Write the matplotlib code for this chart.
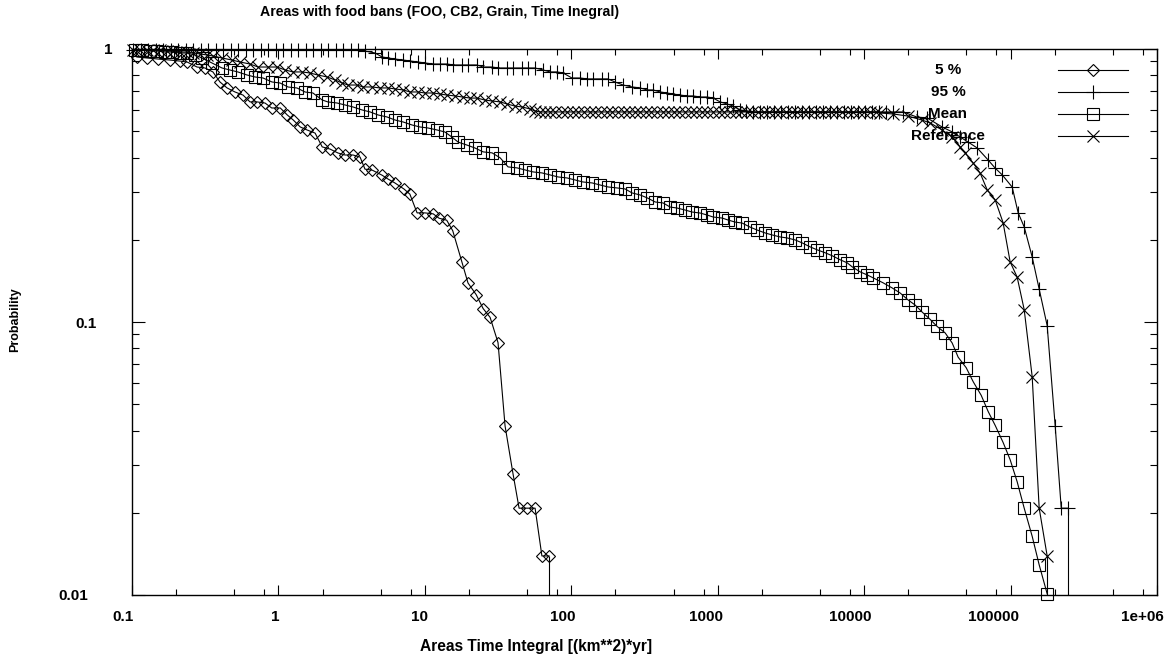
import matplotlib

matplotlib.use("Agg")
import matplotlib.pyplot as plt
from matplotlib.ticker import FixedLocator, LogLocator, NullFormatter
from matplotlib.transforms import ScaledTranslation

TITLE = "Areas with food bans (FOO, CB2, Grain, Time Inegral)"
X_LABEL = "Areas Time Integral [(km**2)*yr]"
Y_LABEL = "Probability"

X_TICKS = [0.1, 1, 10, 100, 1000, 10000, 100000, 1e6]
X_TICK_LABELS = ["0.1", "1", "10", "100", "1000", "10000", "100000", "1e+06"]
Y_TICKS = [0.01, 0.1, 1]
Y_TICK_LABELS = ["0.01", "0.1", "1"]

SERIES_LABELS = ["5 %", "95 %", "Mean", "Reference"]

# 5 % curve (diamonds)
P5_X = [0.108, 0.127, 0.150, 0.182, 0.213, 0.238, 0.278, 0.315, 0.357, 0.399,
        0.446, 0.505, 0.573, 0.640, 0.714, 0.810, 0.900, 1.03, 1.15, 1.26,
        1.41, 1.57, 1.78, 1.99, 2.25, 2.55, 2.85, 3.23, 3.61, 3.90,
        4.37, 5.10, 5.60, 6.25, 7.20, 7.90, 8.85, 10.0, 11.4, 12.5,
        14.1, 15.5, 17.9, 19.7, 22.4, 25.0, 27.9, 31.6, 35.3, 40.0,
        44.0, 49.9, 56.6, 63.0, 70.5]
P5_Y = [0.935, 0.927, 0.919, 0.911, 0.903, 0.896, 0.859, 0.852, 0.824, 0.757,
        0.720, 0.696, 0.678, 0.640, 0.640, 0.634, 0.608, 0.608, 0.573, 0.550,
        0.518, 0.505, 0.492, 0.438, 0.430, 0.416, 0.409, 0.409, 0.402, 0.363,
        0.360, 0.345, 0.334, 0.323, 0.307, 0.294, 0.251, 0.251, 0.249, 0.240,
        0.236, 0.216, 0.166, 0.139, 0.126, 0.112, 0.104, 0.084, 0.0416, 0.0278,
        0.0208, 0.0208, 0.0208, 0.0139, 0.0139]

# 95 % curve (plus signs)
P95_X = [0.1016, 0.1152, 0.1286, 0.1459, 0.1628, 0.1847, 0.2062, 0.2338, 0.2611, 0.296,
         0.330, 0.375, 0.418, 0.474, 0.530, 0.601, 0.671, 0.761, 0.849, 0.963,
         1.075, 1.219, 1.36, 1.543, 1.72, 1.954, 2.18, 2.47, 2.76, 3.13,
         3.50, 3.90, 4.57, 5.10, 5.61, 6.25, 7.10, 7.92, 8.99, 10.0,
         11.4, 12.7, 14.2, 15.6, 17.9, 19.7, 22.7, 25.0, 28.8, 31.6,
         36.4, 40.0, 46.4, 50.7, 56.6, 64.2, 71.7, 80.0, 87.9, 101,
         115, 128, 141, 162, 178, 199, 226, 260, 295, 330,
         362, 405, 451, 496, 553, 618, 679, 759, 847, 931,
         1039, 1159, 1274, 1422, 1563, 1746, 1949, 2170, 2420, 2700,
         3020, 3370, 3760, 4200, 4690, 5230, 5840, 6520, 7280, 8120,
         9070, 10100, 11300, 12600, 14100, 15700, 18460, 23000, 26920, 34100,
         39910, 45290, 51340, 59150, 70310, 78520, 87650, 102600, 112700, 123900,
         140500, 156800, 177800, 201700, 221800, 247300]
P95_Y = [0.993, 0.993, 0.993, 0.993, 0.993, 0.993, 0.993, 0.993, 0.993, 0.993,
         0.993, 0.993, 0.993, 0.993, 0.993, 0.993, 0.993, 0.993, 0.993, 0.993,
         0.993, 0.993, 0.993, 0.993, 0.993, 0.993, 0.993, 0.993, 0.993, 0.990,
         0.990, 0.983, 0.967, 0.935, 0.927, 0.919, 0.911, 0.904, 0.896, 0.889,
         0.881, 0.881, 0.881, 0.874, 0.874, 0.874, 0.874, 0.859, 0.859, 0.852,
         0.852, 0.852, 0.852, 0.852, 0.852, 0.838, 0.824, 0.824, 0.817, 0.783,
         0.783, 0.777, 0.777, 0.777, 0.777, 0.757, 0.738, 0.726, 0.720, 0.708,
         0.708, 0.696, 0.690, 0.684, 0.678, 0.673, 0.673, 0.667, 0.667, 0.661,
         0.640, 0.629, 0.618, 0.598, 0.593, 0.588, 0.588, 0.588, 0.588, 0.588,
         0.588, 0.588, 0.588, 0.588, 0.588, 0.588, 0.588, 0.588, 0.588, 0.588,
         0.588, 0.588, 0.588, 0.588, 0.588, 0.588, 0.588, 0.563, 0.559, 0.518,
         0.497, 0.476, 0.456, 0.434, 0.392, 0.366, 0.346, 0.312, 0.251, 0.223,
         0.173, 0.132, 0.097, 0.0416, 0.0208, 0.0208]

# mean curve (squares)
MEAN_X = [0.1048, 0.117, 0.1327, 0.1482, 0.168, 0.1876, 0.2128, 0.2375, 0.2694, 0.3006,
          0.352, 0.412, 0.467, 0.530, 0.610, 0.692, 0.785, 0.904, 1.026, 1.163,
          1.34, 1.52, 1.72, 1.99, 2.18, 2.51, 2.85, 3.23, 3.73, 4.23,
          4.79, 5.52, 6.25, 7.10, 8.18, 9.27, 10.5, 12.1, 13.7, 15.3,
          16.9, 19.4, 22.0, 25.0, 28.8, 32.7, 37.0, 42.7, 48.3, 54.8,
          63.1, 71.7, 81.2, 93.6, 106, 120, 139, 157, 178, 205,
          233, 260, 295, 330, 374, 424, 473, 528, 599, 669,
          759, 847, 931, 1072, 1178, 1315, 1468, 1665, 1858, 2108,
          2353, 2669, 2979, 3379, 3773, 4279, 4776, 5416, 6046, 6856,
          7652, 8280, 9390, 10480, 11520, 13490, 15530, 17620, 19970, 22290,
          24880, 28240, 31520, 35750, 39910, 43870, 49770, 55590, 62990, 70310,
          78520, 88930, 99340, 110900, 123900, 140500, 156800, 177800]
MEAN_Y = [0.9916, 0.9916, 0.9833, 0.9833, 0.975, 0.975, 0.9668, 0.9668, 0.9507, 0.9268,
          0.8886, 0.8519, 0.8376, 0.8236, 0.8032, 0.7897, 0.7831, 0.7571, 0.7507, 0.7258,
          0.7197, 0.6958, 0.690, 0.6505, 0.6397, 0.6343, 0.6237, 0.6133, 0.598, 0.5881,
          0.5733, 0.5636, 0.5495, 0.5404, 0.5268, 0.518, 0.5137, 0.5051, 0.4967, 0.4758,
          0.4558, 0.4447, 0.4338, 0.4199, 0.4164, 0.3992, 0.3699, 0.3668, 0.3606, 0.3546,
          0.3516, 0.3457, 0.3399, 0.337, 0.3314, 0.3258, 0.3231, 0.3177, 0.3124, 0.3098,
          0.3072, 0.297, 0.292, 0.2849, 0.2752, 0.2729, 0.2637, 0.2615, 0.2571, 0.2528,
          0.2507, 0.2465, 0.2424, 0.2403, 0.2363, 0.2323, 0.2304, 0.2226, 0.2172, 0.2119,
          0.2084, 0.2049, 0.2032, 0.1998, 0.1949, 0.1884, 0.1838, 0.1793, 0.1749, 0.169,
          0.1648, 0.1593, 0.1526, 0.1488, 0.1451, 0.1391, 0.1333, 0.1277, 0.1204, 0.1154,
          0.1088, 0.1022, 0.0963, 0.0912, 0.0838, 0.0743, 0.068, 0.0604, 0.0539, 0.047,
          0.0418, 0.0362, 0.0313, 0.026, 0.0208, 0.0164, 0.0129, 0.0101]

# reference run (crosses)
REF_X = [0.1016, 0.1134, 0.1266, 0.139, 0.1554, 0.1734, 0.1905, 0.2128, 0.2375, 0.2611,
         0.2914, 0.3253, 0.357, 0.412, 0.482, 0.547, 0.640, 0.726, 0.849, 0.978,
         1.11, 1.26, 1.45, 1.64, 1.86, 2.15, 2.44, 2.72, 2.99, 3.44,
         3.78, 4.36, 4.94, 5.61, 6.25, 7.10, 7.92, 8.99, 10.0, 11.4,
         12.7, 14.2, 16.1, 18.2, 20.4, 22.7, 25.8, 28.8, 32.7, 36.4,
         41.3, 46.4, 52.3, 56.6, 61.2, 66, 72, 78, 86, 94,
         102, 112, 123, 134, 146, 160, 175, 190, 208, 228,
         248, 272, 296, 324, 352, 386, 420, 460, 503, 548,
         600, 653, 715, 780, 850, 930, 1015, 1110, 1210, 1325,
         1445, 1580, 1725, 1885, 2055, 2245, 2455, 2680, 2925, 3195,
         3490, 3810, 4165, 4545, 4965, 5425, 5925, 6470, 7065, 7715,
         8425, 9200, 10050, 10970, 11980, 12850, 15780, 19950, 24880, 28240,
         34100, 39910, 45290, 49000, 55590, 62000, 69200, 78520, 88930, 99340,
         110900, 123900, 140500, 156800, 177800]
REF_Y = [0.993, 0.993, 0.990, 0.990, 0.990, 0.983, 0.983, 0.975, 0.975, 0.967,
         0.959, 0.951, 0.943, 0.927, 0.911, 0.896, 0.881, 0.859, 0.859, 0.859,
         0.838, 0.824, 0.824, 0.817, 0.803, 0.790, 0.770, 0.751, 0.738, 0.738,
         0.726, 0.726, 0.720, 0.720, 0.714, 0.708, 0.696, 0.696, 0.690, 0.690,
         0.684, 0.678, 0.673, 0.667, 0.661, 0.661, 0.650, 0.645, 0.640, 0.629,
         0.618, 0.613, 0.603, 0.593, 0.588, 0.588, 0.588, 0.588, 0.588, 0.588,
         0.588, 0.588, 0.588, 0.588, 0.588, 0.588, 0.588, 0.588, 0.588, 0.588,
         0.588, 0.588, 0.588, 0.588, 0.588, 0.588, 0.588, 0.588, 0.588, 0.588,
         0.588, 0.588, 0.588, 0.588, 0.588, 0.588, 0.588, 0.588, 0.588, 0.588,
         0.588, 0.588, 0.588, 0.588, 0.588, 0.588, 0.588, 0.588, 0.588, 0.588,
         0.588, 0.588, 0.588, 0.588, 0.588, 0.588, 0.588, 0.588, 0.588, 0.588,
         0.588, 0.588, 0.588, 0.588, 0.588, 0.583, 0.578, 0.568, 0.549, 0.536,
         0.505, 0.476, 0.438, 0.416, 0.382, 0.351, 0.305, 0.280, 0.231, 0.166,
         0.146, 0.111, 0.063, 0.0208, 0.0139]

X_MIN, X_MAX = 0.1, 1e6
Y_MIN, Y_MAX = 0.01, 1.0

FONT = "Liberation Sans"
LINE_W = 0.8


def _series():
    return [
        (P5_X, P5_Y, "D", 6.2, True),
        (P95_X, P95_Y, "+", 9.5, True),
        (MEAN_X, MEAN_Y, "s", 8.0, False),
        (REF_X, REF_Y, "x", 9.0, True),
    ]


def _shift_labels(fig, labels, dx_func, dy=0.0):
    for label in labels:
        dx = dx_func(label.get_text()) / fig.dpi
        label.set_transform(label.get_transform()
                            + ScaledTranslation(dx, dy / fig.dpi, fig.dpi_scale_trans))


def main() -> None:
    plt.rcParams["font.family"] = [FONT, "DejaVu Sans"]
    plt.rcParams["font.weight"] = "bold"

    fig = plt.figure(figsize=(11.71, 6.63), dpi=100)
    ax = fig.add_axes([132 / 1171, 68 / 663, 1025 / 1171, 546 / 663])

    for xs, ys, marker, ms, drop in _series():
        assert len(xs) == len(ys)
        ax.plot(xs, ys, color="black", lw=LINE_W, marker=marker, ms=ms,
                mfc="none", mec="black", mew=LINE_W, clip_on=False, zorder=3)
        if drop:
            # gnuplot draws the last step down to the lower border
            ax.vlines(xs[-1], Y_MIN, ys[-1], color="black", lw=LINE_W, zorder=3)

    ax.set_xscale("log")
    ax.set_yscale("log")
    ax.set_xlim(X_MIN, X_MAX)
    ax.set_ylim(Y_MIN, Y_MAX)

    ax.xaxis.set_major_locator(FixedLocator(X_TICKS))
    ax.xaxis.set_minor_locator(LogLocator(base=10, subs=(2, 5, 8), numticks=20))
    ax.xaxis.set_minor_formatter(NullFormatter())
    ax.yaxis.set_major_locator(FixedLocator(Y_TICKS))
    ax.yaxis.set_minor_locator(LogLocator(base=10, subs=range(2, 10), numticks=20))
    ax.yaxis.set_minor_formatter(NullFormatter())
    ax.set_xticklabels(X_TICK_LABELS, fontsize=11, fontweight="bold")
    ax.set_yticklabels(Y_TICK_LABELS, fontsize=11, fontweight="bold")

    ax.tick_params(which="both", direction="in", top=True, right=True,
                   color="black", width=0.8)
    ax.tick_params(axis="x", which="major", length=7.5, pad=11)
    ax.tick_params(axis="x", which="minor", length=4)
    ax.tick_params(axis="y", which="major", length=9.5, pad=14)
    ax.tick_params(axis="y", which="minor", length=5)
    for spine in ax.spines.values():
        spine.set_linewidth(1.0)
        spine.set_color("black")

    # gnuplot-like label placement (its width estimate pushes longer labels left)
    _shift_labels(fig, ax.get_xticklabels(), lambda t: -2.85 * len(t))
    _shift_labels(fig, ax.get_yticklabels(), lambda t: -8.0 * (len(t) - 1))

    # key: text on the left, sample line with marker on the right
    for i, (label, (_, _, marker, ms, _)) in enumerate(zip(SERIES_LABELS, _series())):
        y = 0.9615 - i * 0.0403
        ax.plot([0.9034, 0.9717], [y, y], transform=ax.transAxes, color="black",
                lw=LINE_W, clip_on=False)
        ax.plot([0.9376], [y], transform=ax.transAxes, marker=marker, ms=ms,
                mfc="none", mec="black", mew=LINE_W, ls="none", clip_on=False)
        ax.text(0.796, y, label, transform=ax.transAxes, ha="center", va="center",
                fontsize=11, fontweight="bold", zorder=5)

    fig.text(440 / 1171, 1 - 12 / 663, TITLE, ha="center", va="center",
             fontsize=10.2, fontweight="bold")
    fig.text(536 / 1171, 1 - 647 / 663, X_LABEL, ha="center", va="center",
             fontsize=11.2, fontweight="bold")
    fig.text(15 / 1171, 1 - 320 / 663, Y_LABEL, ha="center", va="center",
             rotation=90, fontsize=9, fontweight="bold")

    fig.savefig("out.png", dpi=100, facecolor="white")
    plt.close(fig)


if __name__ == "__main__":
    main()
